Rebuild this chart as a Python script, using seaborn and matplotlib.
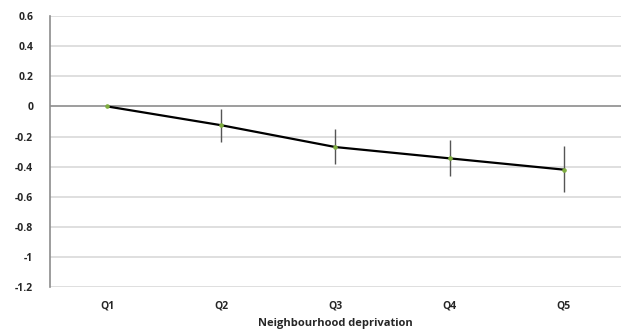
import pandas as pd
import matplotlib
matplotlib.use('Agg')
import matplotlib.pyplot as plt
import seaborn as sns

# Values
quintiles = ['Q1', 'Q2', 'Q3', 'Q4', 'Q5']
estimate = [0.0, -0.125, -0.27, -0.345, -0.42]
ci_low = [0.0, -0.235, -0.38, -0.465, -0.57]
ci_high = [0.0, -0.02, -0.15, -0.22, -0.26]
y_ticks = [0.6, 0.4, 0.2, 0, -0.2, -0.4, -0.6, -0.8, -1, -1.2]

df = pd.DataFrame({'Quintile': quintiles, 'Estimate': estimate,
                   'Low': ci_low, 'High': ci_high})

sns.set_style('white')
plt.rcParams['font.family'] = ['Open Sans', 'DejaVu Sans']

fig = plt.figure(figsize=(6.21, 3.35), dpi=100)
ax = fig.add_axes([0.0805, 0.143, 0.9195, 0.809])

# Gridlines
for t in y_ticks:
    ax.axhline(t, color='#8c8c8c' if t == 0 else '#d9d9d9', lw=1.2, zorder=0)

# Error bars
x = list(range(len(quintiles)))
lower = [e - l for e, l in zip(df['Estimate'], df['Low'])]
upper = [h - e for e, h in zip(df['Estimate'], df['High'])]
ax.errorbar(x, df['Estimate'], yerr=[lower, upper], fmt='none',
            ecolor='#555555', elinewidth=1, capsize=0, zorder=2)

sns.lineplot(data=df, x='Quintile', y='Estimate', ax=ax, color='black',
             lw=1.6, marker='o', markersize=2.5, markerfacecolor='#7fae3f',
             markeredgecolor='#7fae3f', zorder=3)

ax.set_xlim(-0.5, 4.5)
ax.set_ylim(-1.2, 0.6)
ax.set_yticks(y_ticks)
ax.set_yticklabels([str(t) for t in y_ticks])
ax.set_xticks(x)
ax.set_xticklabels(quintiles)

for s in ['top', 'right', 'bottom']:
    ax.spines[s].set_visible(False)
ax.spines['left'].set_color('#8c8c8c')
ax.spines['left'].set_linewidth(1.2)

ax.tick_params(axis='y', length=4, color='#8c8c8c', direction='out', pad=8,
               labelsize=7.5, labelcolor='#262626')
ax.tick_params(axis='x', length=0, pad=10, labelsize=7.5, labelcolor='#262626')
for lab in ax.get_xticklabels() + ax.get_yticklabels():
    lab.set_fontweight('bold')

ax.set_ylabel('')
ax.set_xlabel('Neighbourhood deprivation', fontsize=8, fontweight='bold',
              color='#262626', labelpad=4)

fig.savefig('out.png', dpi=100)
